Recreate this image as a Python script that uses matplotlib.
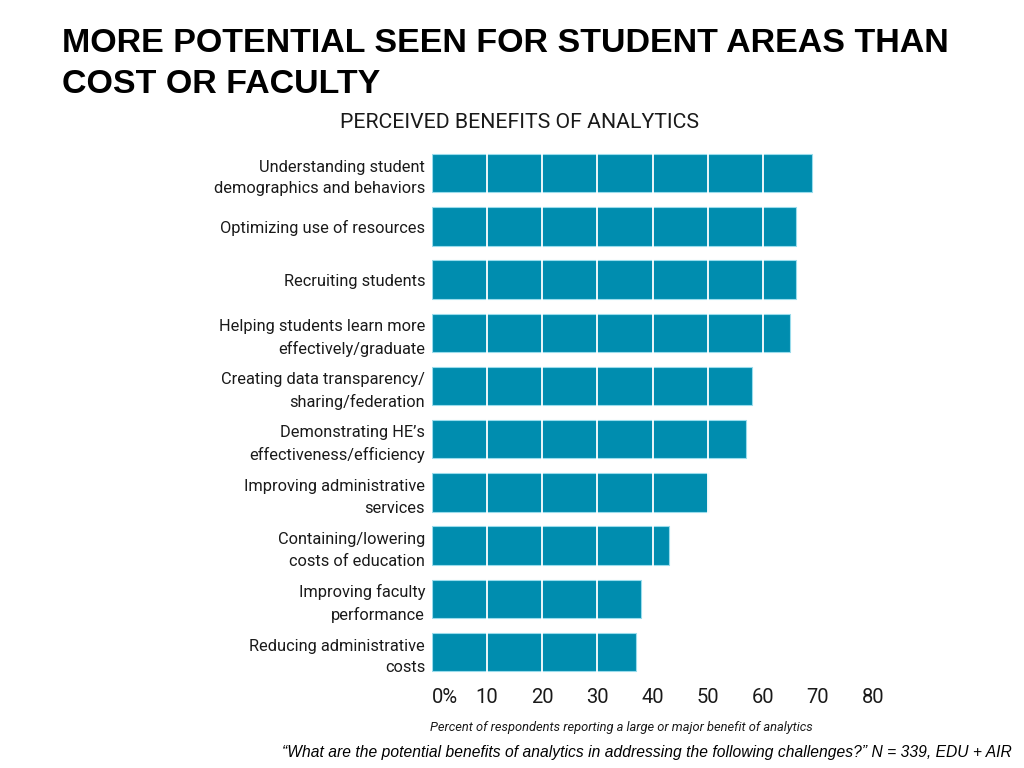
import matplotlib

matplotlib.use("Agg")
import matplotlib.pyplot as plt

# values (percent reporting large/major benefit)
categories = [
    "Understanding student\ndemographics and behaviors",
    "Optimizing use of resources",
    "Recruiting students",
    "Helping students learn more\neffectively/graduate",
    "Creating data transparency/\nsharing/federation",
    "Demonstrating HE\u2019s\neffectiveness/efficiency",
    "Improving administrative\nservices",
    "Containing/lowering\ncosts of education",
    "Improving faculty\nperformance",
    "Reducing administrative\ncosts",
]
values = [69, 66, 66, 65, 58, 57, 50, 43, 38, 37]
x_ticks = [0, 10, 20, 30, 40, 50, 60, 70, 80]
x_tick_labels = ["0%", "10", "20", "30", "40", "50", "60", "70", "80"]

BAR = "#008DAF"
NARROW = ["Roboto", "DejaVu Sans"]
TXT = "#1a1a1a"

fig = plt.figure(figsize=(10.24, 7.68), dpi=100)
ax = fig.add_axes([432 / 1024, 1 - 678.6 / 768, 441 / 1024, 532 / 768])

ypos = list(range(len(categories)))
ax.barh(ypos, values, height=0.72, color=BAR, edgecolor="#9ADCEC", linewidth=0.8, zorder=2)
for xv in x_ticks[1:]:
    ax.axvline(xv, color="white", linewidth=1.3, zorder=3)

ax.set_xlim(0, 80)
ax.set_ylim(len(categories) - 0.5, -0.5)
ax.set_yticks(ypos)
ax.set_yticklabels(categories, family=NARROW, fontsize=11.8, color=TXT, linespacing=1.55)
ax.set_xticks(x_ticks)
ax.set_xticklabels(x_tick_labels, family=NARROW, fontsize=14.5, color=TXT)
ax.get_xticklabels()[0].set_horizontalalignment("left")
ax.tick_params(axis="y", length=0, pad=5)
ax.tick_params(axis="x", length=0, pad=7)
for s in ax.spines.values():
    s.set_visible(False)

fig.text(520 / 1024, 1 - 122 / 768, "PERCEIVED BENEFITS OF ANALYTICS", family=NARROW,
         fontsize=15.3, color=TXT, ha="center", va="center")
fig.text(430 / 1024, 1 - 727 / 768, "Percent of respondents reporting a large or major benefit of analytics",
         family=NARROW, style="italic", fontsize=9.3, color=TXT, ha="left", va="center")
fig.text(62 / 1024, 1 - 64 / 768, "MORE POTENTIAL SEEN FOR STUDENT AREAS THAN\nCOST OR FACULTY",
         family=["Liberation Sans", "DejaVu Sans"], fontweight="bold", fontsize=24.5,
         color="black", ha="left", va="center", linespacing=1.45)
fig.text(1012 / 1024, 1 - 752 / 768,
         "\u201cWhat are the potential benefits of analytics in addressing the following challenges?\u201d N = 339, EDU + AIR",
         family=["Liberation Sans", "DejaVu Sans"], style="italic", fontsize=11.25,
         color="black", ha="right", va="center")

fig.savefig("out.png", dpi=100)
